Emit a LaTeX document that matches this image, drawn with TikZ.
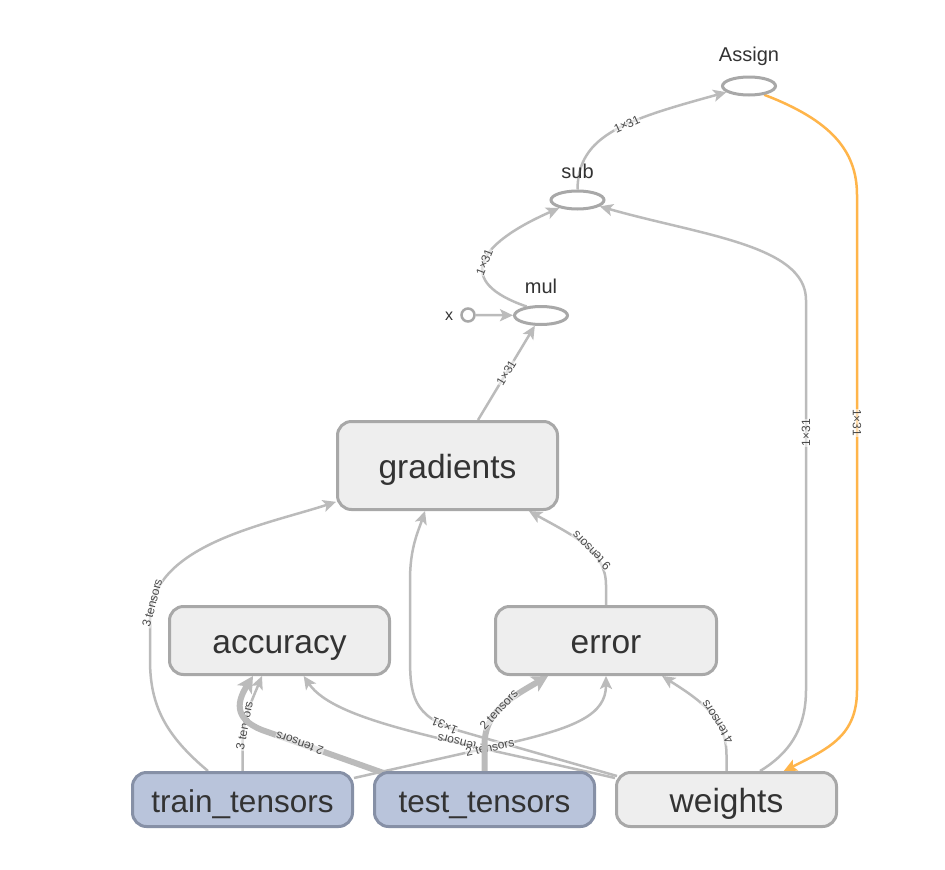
\documentclass[tikz,border=0pt]{standalone}
\usepackage{fontspec}
\setmainfont{Liberation Sans}
\usetikzlibrary{arrows.meta,shapes.geometric}
\pgfdeclarelayer{bg}
\pgfsetlayers{bg,main}
\definecolor{edgecol}{HTML}{BBBBBB}
\definecolor{orangecol}{HTML}{FFB54A}
\definecolor{nodefill}{HTML}{EEEEEE}
\definecolor{nodeborder}{HTML}{A8A8A8}
\definecolor{bluefill}{HTML}{B9C4DB}
\definecolor{blueborder}{HTML}{8690A6}
\definecolor{textcol}{HTML}{333333}
\definecolor{labcol}{HTML}{4A4A4A}
\begin{document}
\begin{tikzpicture}[x=1pt,y=-1pt,
  box/.style={draw=nodeborder, fill=nodefill, line width=3pt, rounded corners=14pt,
    minimum width=220pt, text=textcol, font=\fontsize{33.5}{36}\selectfont,
    text height=30pt, text depth=5pt},
  bbox/.style={box, draw=blueborder, fill=bluefill, minimum height=54pt,
    font=\fontsize{31.5}{34}\selectfont},
  op/.style={ellipse, draw=nodeborder, fill=white, line width=3pt, minimum width=53pt,
    minimum height=18pt, inner sep=0pt},
  oplab/.style={text=textcol, font=\fontsize{20}{22}\selectfont},
  xc/.style={circle, draw=nodeborder, fill=white, line width=2.5pt, minimum size=13pt, inner sep=0pt},
  edge/.style={draw=edgecol, line width=2.5pt, line join=round,
    -{Stealth[length=13pt,width=12pt,inset=3pt]}},
  thickedge/.style={draw=edgecol, line width=6pt, line join=round,
    -{Stealth[length=16pt,width=17pt,inset=4pt]}},
  oedge/.style={draw=orangecol, line width=2.5pt, line join=round,
    -{Stealth[length=13pt,width=12pt,inset=3pt]}},
  lab/.style={sloped, allow upside down, font=\fontsize{12}{13}\selectfont, text=labcol,
    inner sep=0.5pt, fill=white, fill opacity=0.55, text opacity=1}
]
\useasboundingbox (0,0) rectangle (945,870);

% nodes
\node[box, minimum height=88pt] (grad) at (447.5,465.5) {gradients};
\node[box, minimum height=68pt] (acc) at (279.5,640.5) {accuracy};
\node[box, minimum height=68pt, minimum width=221pt] (err) at (606,640.5) {error};
\node[bbox] (train) at (242.5,799.5) {train\_tensors};
\node[bbox] (test) at (484.5,799.5) {test\_tensors};
\node[box, minimum height=54pt] (wts) at (726.5,799.5) {weights};
\node[op] (mul) at (541,315.5) {};
\node[op] (sub) at (577.5,200) {};
\node[op] (Assign) at (749,86) {};
\node[xc] (x) at (468,315) {};
\node[oplab] (mullab) at (541,286) {mul};
\node[oplab] (sublab) at (577.5,171) {sub};
\node[oplab] (assignlab) at (749,56) {Assign};
\node[text=textcol, font=\fontsize{16}{18}\selectfont] (xlab) at (449,316) {x};

\begin{pgfonlayer}{bg}
\fill[white] (0,0) rectangle (945,870);
% gradients -> mul
\draw[edge] ([xshift=30.5pt]grad.north) -- node[lab]{1×31} (mul);
% x -> mul
\draw[edge] (x) -- (mul);
% mul -> sub
\draw[edge] (mul.148) .. controls (455,282) and (475,245) .. node[lab,pos=0.5]{1×31} (sub);
% sub -> Assign
\draw[edge] (sub.north) .. controls (578,135) and (625,120) .. node[lab,pos=0.58]{1×31} (Assign);
% weights -> sub
\draw[edge] ([xshift=33.5pt]wts.north) .. controls (795,750) and (806,722) .. (806,690)
  -- node[lab,pos=0.66]{1×31} (806,300) .. controls (806,245) and (700,235) .. (sub);
% Assign -> weights (orange)
\draw[oedge] (Assign.-30) .. controls (830,120) and (857,150) .. (857,195)
  -- node[lab,pos=0.46]{1×31} (857,690) .. controls (857,735) and (830,748) .. (wts);
% train -> gradients
\draw[edge] ([xshift=-34.5pt]train.north) .. controls (165,735) and (150,705) .. (150,660)
  -- (150,620) .. controls (150,545) and (265,525) .. node[lab,pos=0.08]{3 tensors} (grad);
% error -> gradients
\draw[edge] (err.north) -- (606,585) .. controls (606,550) and (572,535) .. node[lab,pos=0.4]{9 tensors} (grad);
% weights -> gradients
\draw[edge] ([xshift=2pt,yshift=-5pt]wts.north west) -- (460,731) .. controls (412,717) and (410,695) .. node[lab,pos=0.12]{1×31} (410,655)
  -- (410,580) .. controls (410,548) and (418,532) .. ([xshift=-22.5pt]grad.south);
% weights -> accuracy
\draw[edge] ([yshift=-7pt]wts.north west) .. controls (450,740) and (335,722) .. node[lab,pos=0.35]{2 tensors} (acc);
% weights -> error
\draw[edge] (wts.north) -- (726.5,755) .. controls (726.5,718) and (700,700) .. node[lab,pos=0.35]{4 tensors} (err);
% train -> accuracy
\draw[edge] (train.north) -- (242.5,748) .. controls (242.5,720) and (250,705) .. node[lab,pos=0.3]{3 tensors} ([xshift=-17.5pt]acc.south);
% train -> error
\draw[edge] ([yshift=-7pt]train.north east) -- node[lab,pos=0.9]{2 tensors} (505,744) .. controls (575,728) and (606,715) .. (err);
% test -> accuracy (thick)
\draw[thickedge] ([xshift=-101pt,yshift=-2pt]test.north) -- node[lab,pos=0.69]{2 tensors} (262,730) .. controls (232,718) and (238,700) .. ([xshift=-26.5pt]acc.south);
% test -> error (thick)
\draw[thickedge] (test.north) -- (484.5,745) .. controls (484.5,712) and (510,698) .. node[lab,pos=0.45]{2 tensors} ([xshift=-58pt]err.south);
\end{pgfonlayer}
\end{tikzpicture}
\end{document}
